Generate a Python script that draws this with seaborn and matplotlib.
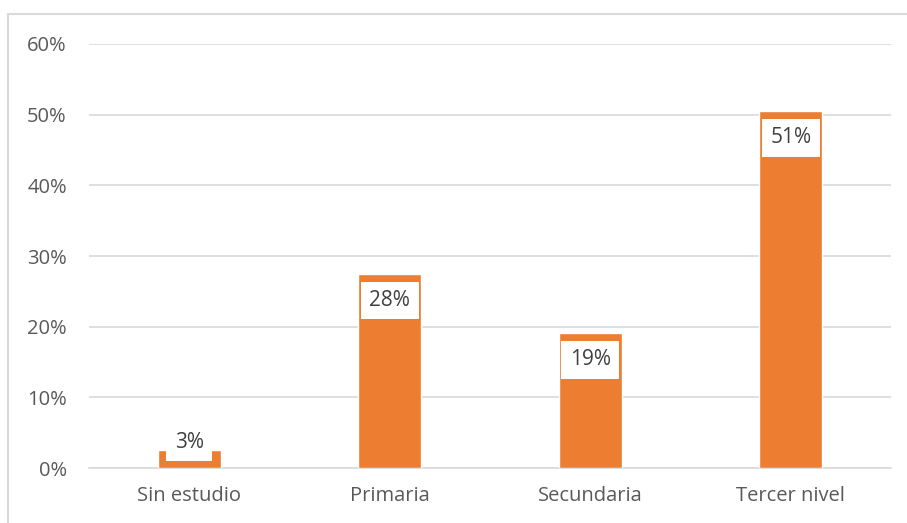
import matplotlib
matplotlib.use("Agg")
import matplotlib.pyplot as plt
import seaborn as sns
import pandas as pd
from matplotlib.patches import Rectangle

categories = ["Sin estudio", "Primaria", "Secundaria", "Tercer nivel"]
values = [0.026, 0.275, 0.191, 0.505]
labels = ["3%", "28%", "19%", "51%"]
yticks = [0, 0.1, 0.2, 0.3, 0.4, 0.5, 0.6]
ytick_labels = ["0%", "10%", "20%", "30%", "40%", "50%", "60%"]

sns.set_theme(style="white")
plt.rcParams['font.family'] = ['Open Sans', 'DejaVu Sans']

df = pd.DataFrame({"cat": categories, "val": values})

fig = plt.figure(figsize=(9.07, 5.23), dpi=100)
ax = fig.add_axes([89/907, 1-468/523, (891-89)/907, (468-44)/523])

sns.barplot(data=df, x="cat", y="val", color="#ED7D31", width=0.315, ax=ax,
            saturation=1, zorder=3)

ax.set_ylim(0, 0.6)
ax.set_yticks(yticks)
ax.set_yticklabels(ytick_labels)
ax.set_xlabel("")
ax.set_ylabel("")
ax.grid(axis="y", color="#d9d9d9", linewidth=1.2, zorder=0)
ax.set_axisbelow(True)
for s in ["top", "right", "left"]:
    ax.spines[s].set_visible(False)
ax.spines["bottom"].set_color("#d9d9d9")
ax.spines["bottom"].set_linewidth(1.2)
ax.tick_params(axis="both", length=0, labelsize=14.5, colors="#595959")
ax.tick_params(axis="x", pad=13)
ax.tick_params(axis="y", pad=16)

for i, (v, lab) in enumerate(zip(values, labels)):
    y = max(v - 0.038, 0.036)
    ax.text(i, y, lab, ha="center", va="center", fontsize=15, color="#404040",
            zorder=5,
            bbox=dict(boxstyle="square,pad=0.4", facecolor="white", edgecolor="none"))

fig.patches.append(Rectangle((8/907, -0.1), 1.2, 1.1-14/523, transform=fig.transFigure,
                             fill=False, edgecolor="#d9d9d9", linewidth=1.5))

fig.savefig("out.png", dpi=100)
